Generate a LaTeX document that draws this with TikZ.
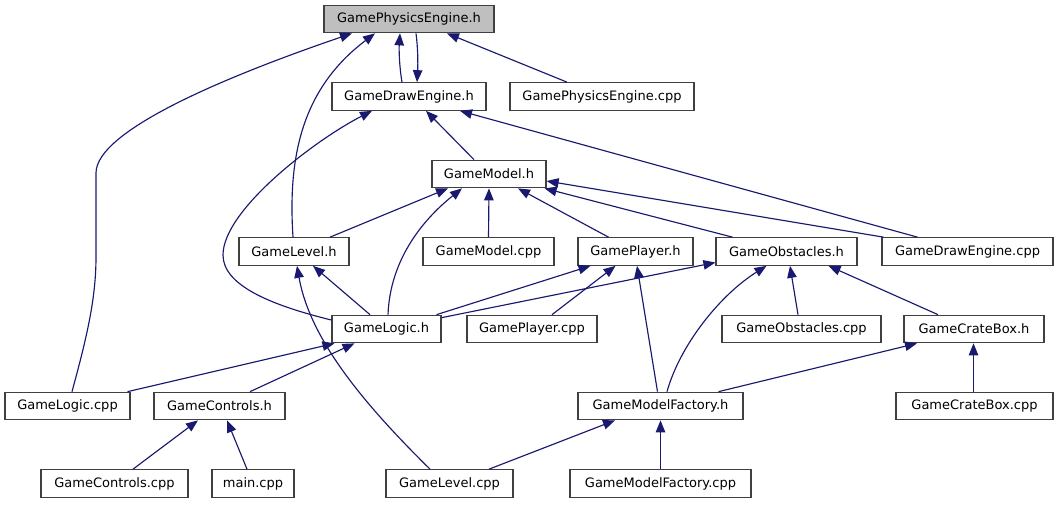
\documentclass[tikz,border=0pt]{standalone}
\usepackage{fontspec}
\setmainfont{DejaVu Sans}
\usetikzlibrary{arrows.meta}
\definecolor{edgec}{HTML}{191970}
\definecolor{boxc}{HTML}{404040}
\begin{document}
\begin{tikzpicture}[x=1pt,y=-1pt,
  file/.style={draw=boxc, line width=1.2pt, fill=white, minimum height=27.5pt, inner sep=0pt, font=\fontsize{13}{15}\selectfont},
  dep/.style={draw=edgec, line width=1.15pt, -{Triangle[length=12pt,width=9.5pt]}}]
\useasboundingbox (0,0) rectangle (1059,504);
% nodes
\node[file, minimum width=170pt, fill=gray!50] (gpe) at (409,19) {GamePhysicsEngine.h};
\node[file, minimum width=154pt] (gdeh) at (409,96.5) {GameDrawEngine.h};
\node[file, minimum width=184pt] (gpec) at (602,96.5) {GamePhysicsEngine.cpp};
\node[file, minimum width=114pt] (gmh) at (489,174) {GameModel.h};
\node[file, minimum width=110pt] (glh) at (294,251.5) {GameLevel.h};
\node[file, minimum width=131pt] (gmc) at (488.5,251.5) {GameModel.cpp};
\node[file, minimum width=115pt] (gph) at (635.5,251.5) {GamePlayer.h};
\node[file, minimum width=141pt] (goh) at (786.5,251.5) {GameObstacles.h};
\node[file, minimum width=171pt] (gdec) at (967.5,251.5) {GameDrawEngine.cpp};
\node[file, minimum width=109pt] (glogh) at (386.5,329) {GameLogic.h};
\node[file, minimum width=130pt] (gpc) at (532,329) {GamePlayer.cpp};
\node[file, minimum width=159pt] (goc) at (801.5,329) {GameObstacles.cpp};
\node[file, minimum width=140pt] (gcbh) at (974,329) {GameCrateBox.h};
\node[file, minimum width=125pt] (glogc) at (67.5,406) {GameLogic.cpp};
\node[file, minimum width=131pt] (gch) at (219.5,406) {GameControls.h};
\node[file, minimum width=165pt] (gmfh) at (660.5,406) {GameModelFactory.h};
\node[file, minimum width=157pt] (gcbc) at (974.5,406) {GameCrateBox.cpp};
\node[file, minimum width=147pt] (gcc) at (114.5,483.5) {GameControls.cpp};
\node[file, minimum width=82pt] (mainc) at (253,483.5) {main.cpp};
\node[file, minimum width=127pt] (glc) at (449.5,483.5) {GameLevel.cpp};
\node[file, minimum width=181pt] (gmfc) at (660.5,483.5) {GameModelFactory.cpp};
% edges
\draw[dep] ([xshift=-7]gdeh.north) .. controls ([xshift=-10,yshift=18]gdeh.north) and ([xshift=-10,yshift=-15]gpe.south) .. ([xshift=-9]gpe.south);
\draw[dep] ([xshift=7]gpe.south) .. controls ([xshift=9,yshift=-15]gpe.south) and ([xshift=9,yshift=18]gdeh.north) .. ([xshift=8]gdeh.north);
\draw[dep] ([xshift=-35]gpec.north) -- ([xshift=38]gpe.south);
\draw[dep] ([xshift=4.5]glogc.north) .. controls (86,340) and (96,300) .. (96,257) -- (96,173) .. controls (96,130) and (230,75) .. ([xshift=-57]gpe.south);
\draw[dep] ([xshift=-1]glh.north) .. controls (288,160) and (300,90) .. ([xshift=-34]gpe.south);
\draw[dep] ([xshift=-15]gmh.north) -- ([xshift=17]gdeh.south);
\draw[dep] ([xshift=-50]gdec.north) -- ([xshift=51]gdeh.south);
\draw[dep] ([yshift=9]glogh.west) .. controls (270,305) and (223,285) .. (223,255) .. controls (223,210) and (315,140) .. ([xshift=-37]gdeh.south);
\draw[dep] ([xshift=36]glh.north) -- ([xshift=-41]gmh.south);
\draw[dep] (gmc.north) -- (gmh.south);
\draw[dep] ([xshift=-27]gph.north) -- ([xshift=29]gmh.south);
\draw[dep] ([xshift=-54]goh.north) -- ([xshift=-2]gmh.south east);
\draw[dep] ([xshift=-84]gdec.north) -- ([yshift=-7]gmh.east);
\draw[dep] ([xshift=1.5]glogh.north) .. controls (390,262) and (420,222) .. ([xshift=-27]gmh.south);
\draw[dep] ([xshift=-16.5]glogh.north) -- ([xshift=19]glh.south);
\draw[dep] ([xshift=-19.5]glc.north) .. controls (365,405) and (310,340) .. ([xshift=3]glh.south);
\draw[dep] ([xshift=50]glogh.north) -- ([xshift=-45]gph.south);
\draw[dep] ([xshift=20]gpc.north) -- ([xshift=-20]gph.south);
\draw[dep] ([xshift=-3]gmfh.north) -- ([xshift=1.5]gph.south);
\draw[dep] ([yshift=-3]glogh.north east) -- ([yshift=-11]goh.west);
\draw[dep] ([xshift=-3.5]goc.north) -- ([xshift=3.5]goh.south);
\draw[dep] ([xshift=-36]gcbh.north) -- ([xshift=42]goh.south);
\draw[dep] ([xshift=6.5]gmfh.north) .. controls (680,345) and (720,295) .. ([xshift=-20]goh.south);
\draw[dep] ([xshift=60]glogc.north) -- ([xshift=-52]glogh.south);
\draw[dep] ([xshift=30.5]gch.north) -- ([xshift=-32]glogh.south);
\draw[dep] ([xshift=58]gmfh.north) -- ([xshift=-57]gcbh.south);
\draw[dep] ([xshift=-1]gcbc.north) -- ([xshift=-0.5]gcbh.south);
\draw[dep] ([xshift=18.5]gcc.north) -- ([xshift=-21.5]gch.south);
\draw[dep] ([xshift=-6]mainc.north) -- ([xshift=7.5]gch.south);
\draw[dep] ([xshift=39.5]glc.north) -- ([xshift=-45.5]gmfh.south);
\draw[dep] (gmfc.north) -- (gmfh.south);
\end{tikzpicture}
\end{document}
